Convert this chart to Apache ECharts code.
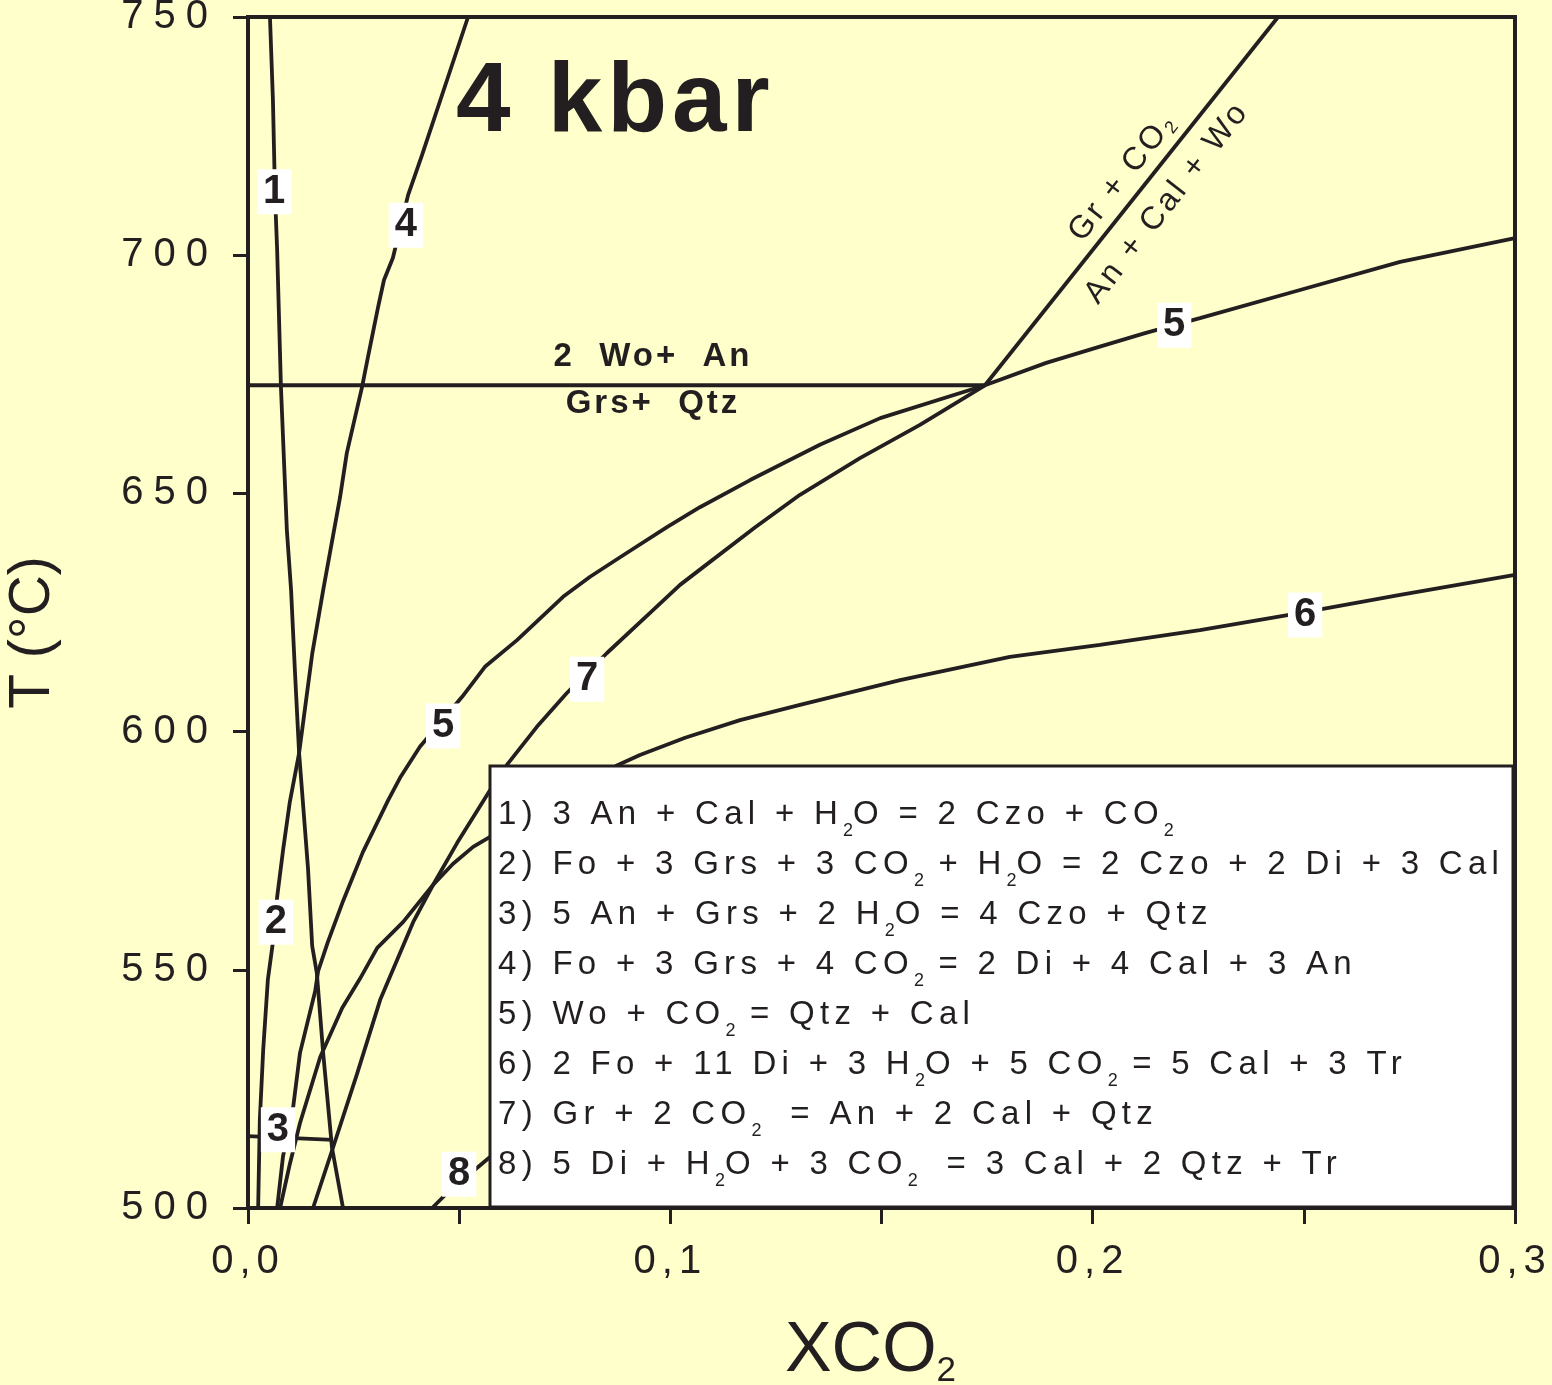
<!DOCTYPE html>
<html><head><meta charset="utf-8">
<script src="https://cdn.jsdelivr.net/npm/echarts@6/dist/echarts.min.js"></script>
<style>html,body{margin:0;padding:0;background:#FFFFCC;}#c{width:1552px;height:1385px;}</style>
</head><body><div id="c"></div>
<script>
// letter-spacing support for fonts tagged with "lspNN" (NN = tenths of a pixel) in the family list
(function(){
  var P = window.CanvasRenderingContext2D && CanvasRenderingContext2D.prototype;
  if (!P) return;
  var t = document.createElement('canvas').getContext('2d');
  if (!('letterSpacing' in t)) return;
  function ap(ctx){ var m = /lsp(\d+)/.exec(ctx.font); var v = m ? (m[1] / 10) + 'px' : '0px'; if (ctx.letterSpacing !== v) ctx.letterSpacing = v; }
  ['fillText','strokeText','measureText'].forEach(function(n){ var o = P[n]; P[n] = function(){ ap(this); return o.apply(this, arguments); }; });
})();

// ---------------- data ----------------
const xTickLabels = ['0,0', '0,1', '0,2', '0,3'];
const yTickValues = [500, 550, 600, 650, 700, 750];

const curve1 = [[0.0052,750],[0.0059,732.6],[0.0064,712.6],[0.0069,701.1],[0.0078,672.3],[0.0092,642.3],[0.0102,629.7],[0.0111,612.9],[0.0121,595.5],[0.0142,571.4],[0.0152,555.0],[0.0163,549.3],[0.0178,532.5],[0.0199,512.6],[0.0225,500]];
const curve2 = [[0.0024,500],[0.0028,518.5],[0.0036,533.2],[0.0047,547.9],[0.0059,555.8],[0.0069,565.3],[0.0083,575.1],[0.0099,585.2],[0.0121,595.5]];
const curve3 = [[0,515.1],[0.0201,514.3]];
const curve4 = [[0.0121,595.5],[0.0152,616.3],[0.0178,629.7],[0.0194,637.5],[0.0218,649.2],[0.0234,658.5],[0.0270,672.3],[0.0284,678.6],[0.0308,689.1],[0.0322,694.8],[0.0343,699.4],[0.0379,712.6],[0.0412,721.0],[0.0521,750]];
const curve5 = [[0.0069,500],[0.0083,510.9],[0.0107,521.2],[0.0123,532.5],[0.0159,545.5],[0.0166,549.7],[0.0189,555.8],[0.0225,564.4],[0.0272,574.7],[0.0332,585.6],[0.0360,590.3],[0.0407,596.8],[0.0507,607.3],[0.0561,613.6],[0.0637,619.2],[0.0746,628.3],[0.0810,632.5],[0.0881,636.6],[0.0992,642.9],[0.1070,647.1],[0.1189,652.8],[0.1354,660.2],[0.1497,665.8],[0.1745,672.7],[0.1890,677.4],[0.2017,680.8],[0.2126,683.7],[0.2254,686.8],[0.2491,692.7],[0.2728,698.6],[0.3,703.6]];
const curve6 = [[0.0076,500],[0.0099,509.2],[0.0123,517.8],[0.0171,531.7],[0.0223,542.0],[0.0265,548.1],[0.0306,554.6],[0.0367,560.0],[0.0438,567.8],[0.0485,572.2],[0.0533,575.8],[0.0573,577.9],[0.0876,593.0],[0.0928,595.1],[0.1035,598.7],[0.1165,602.4],[0.1307,605.6],[0.1544,610.8],[0.1804,615.7],[0.2017,618.2],[0.2254,621.3],[0.2503,625.1],[0.2728,628.7],[0.3,632.9]];
const curve7 = [[0.0154,500],[0.0201,512.6],[0.0258,528.1],[0.0313,543.7],[0.0391,560.0],[0.0438,567.8],[0.0495,576.6],[0.0573,587.7],[0.0613,593.0],[0.0684,601.0],[0.0755,608.1],[0.0850,616.5],[0.0952,624.9],[0.1023,630.8],[0.1070,634.0],[0.1201,642.9],[0.1307,649.7],[0.1449,657.4],[0.1591,664.4],[0.1745,672.7]];
const curve8 = [[0.0436,500],[0.0471,503.1],[0.0573,510.7]];
const curveGrWo = [[0.1745,672.7],[0.2439,750]];          // Gr + CO2 = An + Cal + Wo
const curveWoAnGrsQtz = [[0,672.7],[0.1745,672.7]];        // 2 Wo + An = Grs + Qtz

const curveLabels = ['1','4','2','3','8','5','7','5','6'];
const curveLabelPos = [[0.0062,713.3],[0.0374,706.3],[0.0066,560.0],[0.0071,516.4],[0.0500,507.1],[0.0462,601.2],[0.0803,611.0],[0.2193,685.3],[0.2503,624.5]];

const reactionText = ['2  Wo+  An', 'Grs+  Qtz', 'Gr + CO₂', 'An + Cal + Wo'];
const reactionPos = [[0.0959,678.6],[0.0959,668.8],[0.2069,716.2],[0.2176,711.0]];
const reactionRotate = [0, 0, 52, 52];

const legendLines = [
  '1) 3 An + Cal + H₂O = 2 Czo + CO₂',
  '2) Fo + 3 Grs + 3 CO₂ + H₂O = 2 Czo + 2 Di + 3 Cal',
  '3) 5 An + Grs + 2 H₂O = 4 Czo + Qtz',
  '4) Fo + 3 Grs + 4 CO₂ = 2 Di + 4 Cal + 3 An',
  '5) Wo + CO₂ = Qtz + Cal',
  '6) 2 Fo + 11 Di + 3 H₂O + 5 CO₂ = 5 Cal + 3 Tr',
  '7) Gr + 2 CO₂  = An + 2 Cal + Qtz',
  '8) 5 Di + H₂O + 3 CO₂  = 3 Cal + 2 Qtz + Tr'
];
const pressureLabel = '4 kbar';
const xAxisTitle = 'XCO₂';
const yAxisTitle = 'T (°C)';

// ---------------- chart ----------------
const INK = '#231F20';
const sub = s => s.replace(/₂/g, '{s|2}');
const chart = echarts.init(document.getElementById('c'), null, {renderer: 'canvas'});

function lineSeries(name, data) {
  return {name, type: 'line', data, symbol: 'none', silent: true, z: 3,
    lineStyle: {color: INK, width: 3.8}, clip: true};
}

const option = {
  backgroundColor: '#FFFFCC',
  animation: false,
  title: {text: pressureLabel, left: 456, top: 52, padding: 0,
    textStyle: {fontSize: 98, fontWeight: 'bold', color: INK, fontFamily: 'Arial, lsp50'}},
  grid: {left: 248, top: 17, right: 37, bottom: 177, show: true, borderColor: INK, borderWidth: 4,
    containLabel: false, outerBoundsMode: 'none'},
  xAxis: {type: 'value', min: 0, max: 0.3, interval: 0.05,
    name: sub(xAxisTitle), nameLocation: 'middle', nameGap: 107,
    nameTextStyle: {fontSize: 70, lineHeight: 74, color: INK, fontFamily: 'Arial', padding: [0, 22, 0, 0],
      rich: {s: {fontSize: 35, lineHeight: 1, verticalAlign: 'bottom', color: INK, fontFamily: 'Arial'}}},
    axisLine: {lineStyle: {color: INK, width: 4}},
    axisTick: {inside: false, length: 16, lineStyle: {color: INK, width: 3}},
    splitLine: {show: false},
    axisLabel: {margin: 31, fontSize: 40, color: INK, fontFamily: 'Arial, lsp60',
      formatter: v => { const k = Math.round(v * 10); return Math.abs(v * 10 - k) < 1e-6 ? xTickLabels[k] : ''; }}
  },
  yAxis: {type: 'value', min: 500, max: 750, interval: 50,
    name: yAxisTitle, nameLocation: 'middle', nameGap: 186, nameRotate: 90,
    nameTextStyle: {fontSize: 57, color: INK, fontFamily: 'Arial', padding: [0, 40, 0, 0]},
    axisLine: {lineStyle: {color: INK, width: 4}},
    axisTick: {inside: false, length: 15, lineStyle: {color: INK, width: 3}},
    splitLine: {show: false},
    axisLabel: {margin: 30, fontSize: 40, color: INK, fontFamily: 'Arial, lsp100',
      formatter: v => yTickValues.indexOf(v) >= 0 ? String(v) : ''}
  },
  series: [
    lineSeries('1', curve1), lineSeries('2', curve2), lineSeries('3', curve3), lineSeries('4', curve4),
    lineSeries('5', curve5), lineSeries('6', curve6), lineSeries('7', curve7), lineSeries('8', curve8),
    lineSeries('GrWo', curveGrWo), lineSeries('WoAn', curveWoAnGrsQtz),
    {name: 'curve labels', type: 'scatter', symbolSize: 1, z: 5, silent: true,
      itemStyle: {color: 'rgba(0,0,0,0)', opacity: 1},
      data: curveLabelPos.map((p, i) => ({value: p, name: curveLabels[i]})),
      label: {show: true, position: 'inside', formatter: '{b}', fontSize: 40, fontWeight: 'bold',
        color: INK, fontFamily: 'Arial', backgroundColor: '#FFFFFF', padding: [4, 6, 1, 6]}},
    {name: 'reactions', type: 'scatter', symbolSize: 1, z: 5, silent: true,
      itemStyle: {color: 'rgba(0,0,0,0)', opacity: 1},
      data: reactionPos.map((p, i) => ({value: p, name: reactionText[i],
        label: {rotate: reactionRotate[i],
          fontWeight: i < 2 ? 'bold' : 'normal', fontSize: i < 2 ? 33 : 32}})),
      label: {show: true, position: 'inside', formatter: p => sub(p.name), color: INK,
        fontFamily: 'Arial, lsp30',
        rich: {s: {fontSize: 18, lineHeight: 26, verticalAlign: 'bottom', color: INK, fontFamily: 'Arial'}}}}
  ],
  graphic: [
    {type: 'rect', z: 100, shape: {x: 490, y: 766, width: 1023, height: 441},
      style: {fill: '#FFFFFF', stroke: INK, lineWidth: 3}},
    {type: 'text', z: 101, x: 498, y: 790,
      style: {text: legendLines.map(sub).join('\n'), fontSize: 33, lineHeight: 50,
        fontFamily: 'Arial, lsp53', fill: INK, verticalAlign: 'top', align: 'left',
        rich: {s: {fontSize: 18, lineHeight: 30, verticalAlign: 'bottom', fill: INK, fontFamily: 'Arial'}}}}
  ]
};
chart.setOption(option);
</script>
</body></html>
